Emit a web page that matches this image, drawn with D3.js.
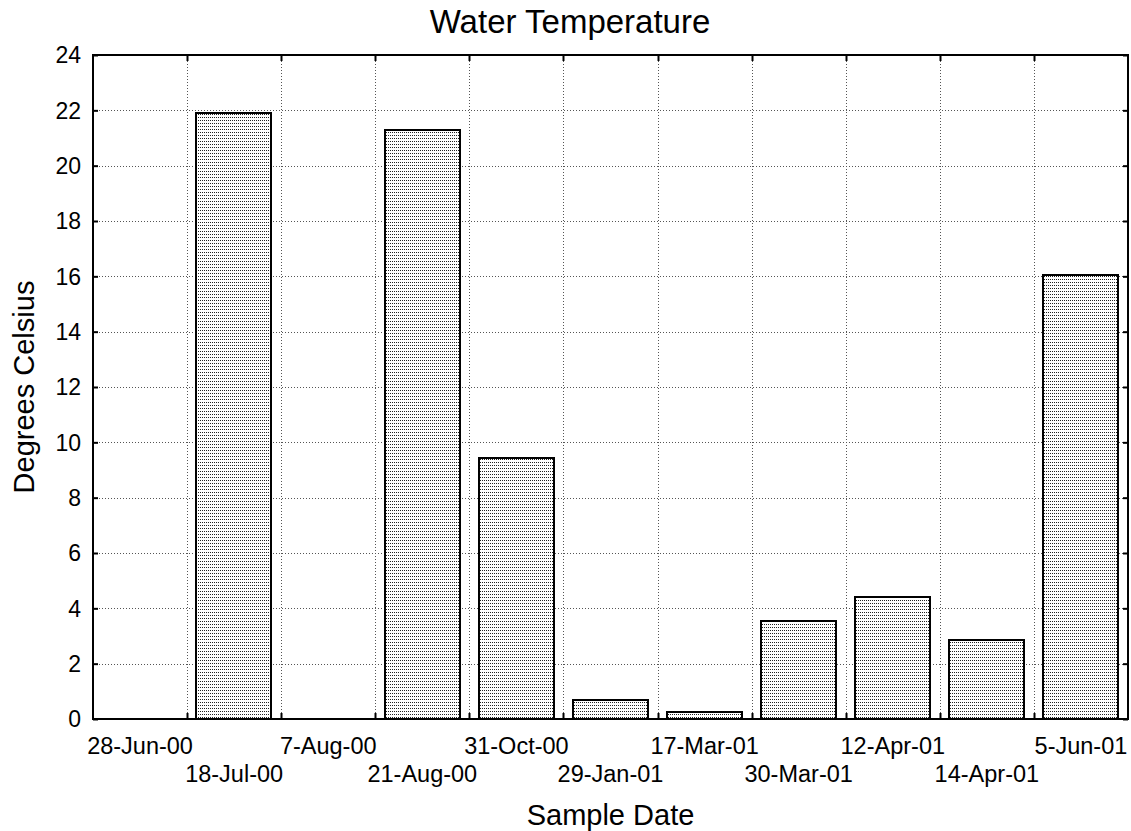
<!DOCTYPE html>
<html lang="en">
<head>
    <meta charset="UTF-8">
    <title>Water Temperature</title>
    <script src="https://d3js.org/d3.v7.min.js"></script>
    <style>
        body {
            margin: 0;
            padding: 0;
            background: #fff;
            font-family: 'Liberation Sans', Arial, sans-serif;
        }
        svg text {
            fill: #000;
        }
        .grid line {
            stroke: #555;
            stroke-width: 1px;
            stroke-dasharray: 1, 2;
        }
        .bar {
            stroke: #000;
            stroke-width: 2px;
        }
    </style>
</head>
<body>
    <svg width="1131" height="831"></svg>

    <script>
        // sample dates and readings (null = no reading)
        var dates = ["28-Jun-00", "18-Jul-00", "7-Aug-00", "21-Aug-00", "31-Oct-00", "29-Jan-01",
                     "17-Mar-01", "30-Mar-01", "12-Apr-01", "14-Apr-01", "5-Jun-01"];
        var temps = [null, 21.9, null, 21.3, 9.43, 0.68, 0.24, 3.54, 4.41, 2.87, 16.04];
        var yTicks = [0, 2, 4, 6, 8, 10, 12, 14, 16, 18, 20, 22, 24];

        var svg = d3.select("svg");
        var pLeft = 93, pRight = 1128, pTop = 55, pBottom = 719;

        // pattern for the dotted bar fill
        var pat = svg.append("defs").append("pattern")
            .attr("id", "dots")
            .attr("patternUnits", "userSpaceOnUse")
            .attr("width", 2)
            .attr("height", 3);
        pat.append("rect").attr("width", 2).attr("height", 3).attr("fill", "#fff");
        pat.append("rect").attr("width", 1).attr("height", 1).attr("fill", "#222");

        var x = d3.scaleBand()
            .domain(dates)
            .range([pLeft, pRight])
            .paddingInner(0.2)
            .paddingOuter(0.1);

        // same bands without padding, for grid lines and ticks
        var xCell = d3.scaleBand()
            .domain(dates)
            .range([pLeft, pRight])
            .padding(0);

        var y = d3.scaleLinear()
            .domain([0, 24])
            .range([pBottom, pTop]);

        // horizontal grid
        svg.append("g")
            .attr("class", "grid")
            .selectAll("line")
            .data(yTicks.slice(1, -1))
            .enter().append("line")
            .attr("x1", pLeft).attr("x2", pRight)
            .attr("y1", function(d) { return Math.round(y(d)) + 0.5; })
            .attr("y2", function(d) { return Math.round(y(d)) + 0.5; });

        // vertical grid at the band edges
        var edges = dates.slice(1);
        svg.append("g")
            .attr("class", "grid")
            .selectAll("line")
            .data(edges)
            .enter().append("line")
            .attr("x1", function(d) { return Math.round(xCell(d)) + 0.5; })
            .attr("x2", function(d) { return Math.round(xCell(d)) + 0.5; })
            .attr("y1", pTop).attr("y2", pBottom);

        // bars
        svg.append("g")
            .selectAll("rect")
            .data(dates.map(function(d, i) { return { date: d, value: temps[i] }; })
                       .filter(function(d) { return d.value != null; }))
            .enter().append("rect")
            .attr("class", "bar")
            .attr("fill", "url(#dots)")
            .attr("x", function(d) { return Math.round(x(d.date)); })
            .attr("width", Math.round(x.bandwidth()))
            .attr("y", function(d) { return Math.round(y(d.value)); })
            .attr("height", function(d) { return pBottom - Math.round(y(d.value)); });

        // left and right axes, ticks pointing in
        svg.append("g")
            .attr("transform", "translate(" + pLeft + ",0)")
            .call(d3.axisRight(y).tickValues(yTicks).tickSize(5).tickFormat(""))
            .call(function(g) { g.select(".domain").remove(); })
            .selectAll("line").attr("stroke-width", 2);

        svg.append("g")
            .attr("transform", "translate(" + pRight + ",0)")
            .call(d3.axisLeft(y).tickValues(yTicks).tickSize(5).tickFormat(""))
            .call(function(g) { g.select(".domain").remove(); })
            .selectAll("line").attr("stroke-width", 2);

        // y tick labels
        svg.append("g")
            .selectAll("text")
            .data(yTicks)
            .enter().append("text")
            .attr("x", pLeft - 12)
            .attr("y", function(d) { return y(d); })
            .attr("dy", "0.36em")
            .attr("text-anchor", "end")
            .style("font-size", "23px")
            .text(function(d) { return d; });

        // small ticks on top and bottom at band edges
        [pTop, pBottom].forEach(function(yy, k) {
            svg.append("g")
                .selectAll("line")
                .data(edges)
                .enter().append("line")
                .attr("x1", function(d) { return Math.round(xCell(d)) + 0.5; })
                .attr("x2", function(d) { return Math.round(xCell(d)) + 0.5; })
                .attr("y1", yy)
                .attr("y2", k == 0 ? yy + 6 : yy - 6)
                .attr("stroke", "#000")
                .attr("stroke-width", 2);
        });

        // x labels, staggered on two rows
        svg.append("g")
            .selectAll("text")
            .data(dates)
            .enter().append("text")
            .attr("x", function(d) { return xCell(d) + xCell.bandwidth() / 2; })
            .attr("y", function(d, i) { return i % 2 == 0 ? 754 : 782; })
            .attr("text-anchor", "middle")
            .style("font-size", "23.5px")
            .text(function(d) { return d; });

        // frame
        svg.append("rect")
            .attr("x", pLeft).attr("y", pTop)
            .attr("width", pRight - pLeft).attr("height", pBottom - pTop)
            .attr("fill", "none")
            .attr("stroke", "#000")
            .attr("stroke-width", 2);

        // titles
        svg.append("text")
            .attr("x", 570).attr("y", 33)
            .attr("text-anchor", "middle")
            .style("font-size", "33px")
            .text("Water Temperature");

        svg.append("text")
            .attr("x", (pLeft + pRight) / 2).attr("y", 825)
            .attr("text-anchor", "middle")
            .style("font-size", "29px")
            .text("Sample Date");

        svg.append("text")
            .attr("transform", "translate(34," + (pTop + pBottom) / 2 + ") rotate(-90)")
            .attr("text-anchor", "middle")
            .style("font-size", "29px")
            .text("Degrees Celsius");
    </script>
</body>
</html>
